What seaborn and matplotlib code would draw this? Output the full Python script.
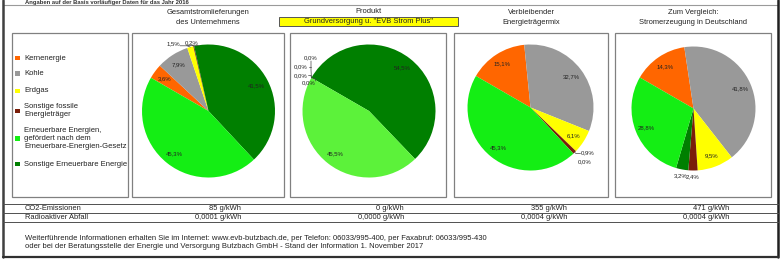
import matplotlib
matplotlib.use("Agg")
import matplotlib.pyplot as plt
from matplotlib.patches import Rectangle
import numpy as np
import seaborn as sns

# ---------------- data ----------------
categories = ["Kernenergie", "Kohle", "Erdgas", "Sonstige fossile Energieträger",
              "Erneuerbare Energien, gefördert nach dem Erneuerbare-Energien-Gesetz",
              "Sonstige Erneuerbare Energie"]
legend_lines = [["Kernenergie"], ["Kohle"], ["Erdgas"],
                ["Sonstige fossile", "Energieträger"],
                ["Erneuerbare Energien,", "gefördert nach dem", "Erneuerbare-Energien-Gesetz"],
                ["Sonstige Erneuerbare Energie"]]
# values in legend order: Kern, Kohle, Erdgas, fossil, EEG, Sonstige EE
gesamt = [3.6, 7.9, 1.5, 0.2, 45.3, 41.5]
produkt = [0.0, 0.0, 0.0, 0.0, 45.5, 54.5]
verbleibend = [15.1, 32.7, 6.1, 0.9, 45.3, 0.0]
deutschland = [14.3, 41.8, 9.5, 2.4, 28.8, 3.2]
pie_titles = [["Gesamtstromlieferungen", "des Unternehmens"],
              ["Produkt", 'Grundversorgung u. "EVB Strom Plus"'],
              ["Verbleibender", "Energieträgermix"],
              ["Zum Vergleich:", "Stromerzeugung in Deutschland"]]
co2 = ["85 g/kWh", "0 g/kWh", "355 g/kWh", "471 g/kWh"]
radio = ["0,0001 g/kWh", "0,0000 g/kWh", "0,0004 g/kWh", "0,0004 g/kWh"]
row_labels = ["CO2-Emissionen", "Radioaktiver Abfall"]
note = "Angaben auf der Basis vorläufiger Daten für das Jahr 2016"
footer = ["Weiterführende Informationen erhalten Sie im Internet: www.evb-butzbach.de, per Telefon: 06033/995-400, per Faxabruf: 06033/995-430",
          "oder bei der Beratungsstelle der Energie und Versorgung Butzbach GmbH - Stand der Information 1. November 2017"]

# ---------------- style ----------------
sns.set_theme(style="white")
plt.rcParams['font.family'] = ['Liberation Sans', 'DejaVu Sans']
colors = sns.color_palette(["#FF6600", "#999999", "#FFFF00", "#7A1E0A", "#14EE14", "#007F00"])
colors_prod = sns.color_palette(["#FF6600", "#999999", "#FFFF00", "#7A1E0A", "#5CF23A", "#007F00"])
# drawing order (clockwise): Kern, Kohle, Erdgas, fossil, Sonstige EE, EEG
order = [0, 1, 2, 3, 5, 4]

W, H = 780, 264
fig = plt.figure(figsize=(W / 100, H / 100), dpi=100)
fig.patch.set_facecolor("white")
bg = fig.add_axes([0, 0, 1, 1])
bg.set_xlim(0, W)
bg.set_ylim(H, 0)
bg.axis("off")
bg.set_zorder(10)
bg.patch.set_visible(False)

FS = 5.4
TFS = 5.4
edge = "#808080"
tc = "#222222"

# outer frame
bg.plot([3, 778], [5, 5], color="#9a9a9a", lw=0.8)
bg.plot([3, 3], [0, 257], color="#404040", lw=1.8)
bg.plot([778, 778], [0, 257], color="#202020", lw=1.8)
bg.plot([3, 778], [256.5, 256.5], color="#303030", lw=1.6)
for yy in [204, 213, 222]:
    bg.plot([3, 778], [yy, yy], color="#505050", lw=0.7)

bg.text(25, 2.3, note, fontsize=4.2, fontweight="bold", va="center", ha="left", color="#333333")

# panels
panels = [(12, 128), (132, 284), (290, 446), (454, 608), (615, 771)]
for x0, x1 in panels:
    bg.add_patch(Rectangle((x0, 33), x1 - x0, 164, fill=False, ec=edge, lw=0.9))

# legend
leg_y = [58, 73.5, 91, 107, 131, 164]
for i, lines in enumerate(legend_lines):
    y0 = leg_y[i]
    ymid = y0 + (len(lines) - 1) * 7.8 / 2
    bg.add_patch(Rectangle((15, ymid - 2.4), 4.8, 4.8, color=colors[i], lw=0))
    for j, ln in enumerate(lines):
        bg.text(24, y0 + j * 7.8, ln, fontsize=5.5, va="center", ha="left", color=tc)

# titles
tcx = [208, 368, 531, 693]
bg.text(tcx[0], 12, pie_titles[0][0], fontsize=TFS, ha="center", va="center", color=tc)
bg.text(tcx[0], 22, pie_titles[0][1], fontsize=TFS, ha="center", va="center", color=tc)
bg.text(tcx[1], 11.5, pie_titles[1][0], fontsize=TFS, ha="center", va="center", color=tc)
bg.add_patch(Rectangle((279, 16.5), 179, 9.5, fc="#FFFF00", ec="#555555", lw=0.7, zorder=1))
bg.text(tcx[1], 21.3, pie_titles[1][1], fontsize=TFS, ha="center", va="center", color=tc, zorder=3)
for k in (2, 3):
    bg.text(tcx[k], 12, pie_titles[k][0], fontsize=TFS, ha="center", va="center", color=tc)
    bg.text(tcx[k], 22, pie_titles[k][1], fontsize=TFS, ha="center", va="center", color=tc)

# pies
pies = [(gesamt, 208.5, 111, 66.5, colors),
        (produkt, 369, 111, 66.5, colors_prod),
        (verbleibend, 530.5, 107.5, 63, colors),
        (deutschland, 693.5, 108.5, 62, colors)]


def fmt(v):
    return f"{v:.1f}%".replace(".", ",")


LFS = 4.3
wedge_info = []
for vals, cx, cy, r, cols in pies:
    ax = fig.add_axes([(cx - r) / W, 1 - (cy + r) / H, 2 * r / W, 2 * r / H])
    v = [vals[i] for i in order]
    c = [cols[i] for i in order]
    wedges, _ = ax.pie(v, colors=c, startangle=150, counterclock=False,
                       wedgeprops=dict(linewidth=0), radius=1)
    ax.set_xlim(-1, 1)
    ax.set_ylim(-1, 1)
    ax.axis("off")
    info = {}
    for idx, w in zip(order, wedges):
        info[idx] = (w.theta1, w.theta2)
    wedge_info.append((info, cx, cy, r))


def pos(pi, idx, f):
    info, cx, cy, r = wedge_info[pi]
    t1, t2 = info[idx]
    a = np.deg2rad((t1 + t2) / 2)
    return cx + f * r * np.cos(a), cy - f * r * np.sin(a)


def lab(pi, idx, vals, f=0.82, **kw):
    x, y = pos(pi, idx, f)
    bg.text(x, y, fmt(vals[idx]), fontsize=LFS, ha="center", va="center", color=tc, **kw)


lc = "#444444"
# pie 1
for idx in (0, 1, 4, 5):
    lab(0, idx, gesamt)
ex, ey = pos(0, 2, 1.0)
bg.text(180, 44, fmt(gesamt[2]), fontsize=LFS, ha="right", va="center", color=tc)
bg.plot([180, 187, ex], [45.8, 45.8, ey], color=lc, lw=0.5)
ex, ey = pos(0, 3, 1.0)
bg.text(192, 42.5, fmt(gesamt[3]), fontsize=LFS, ha="center", va="center", color=tc)
bg.plot([186, 198], [44.8, 44.8], color=lc, lw=0.5)
bg.plot([192, ex], [44.8, ey], color=lc, lw=0.5)

# pie 2
for idx in (4, 5):
    lab(1, idx, produkt)
ex, ey = pos(1, 0, 1.0)
zero_pos = [(311, 58, "center"), (308, 67, "right"), (308, 75.5, "right"), (315, 83, "right")]
for (zx, zy, ha), idx in zip(zero_pos, [0, 1, 2, 3]):
    bg.text(zx, zy, fmt(produkt[idx]), fontsize=LFS, ha=ha, va="center", color=tc)
bg.plot([311, 311, ex], [61, 70, ey], color=lc, lw=0.5)
bg.plot([308.5, 311], [67, 67], color=lc, lw=0.5)
bg.plot([308.5, 311, ex], [75.5, 75.5, ey], color=lc, lw=0.5)
bg.plot([315.5, 315.5, ex], [81, 79, ey], color=lc, lw=0.5)

# pie 3
for idx in (0, 1, 2, 4):
    lab(2, idx, verbleibend)
ex, ey = pos(2, 3, 1.0)
bg.text(581, 153, fmt(verbleibend[3]), fontsize=LFS, ha="left", va="center", color=tc)
bg.plot([ex, 576, 580.5], [ey, 153.5, 153.5], color=lc, lw=0.5)
bg.text(578, 162, fmt(verbleibend[5]), fontsize=LFS, ha="left", va="center", color=tc)

# pie 4
for idx in (0, 1, 2, 4):
    lab(3, idx, deutschland)
lab(3, 3, deutschland, f=1.1)
lab(3, 5, deutschland, f=1.1)

# bottom rows
for j, lbl in enumerate(row_labels):
    bg.text(25, 209 + j * 8.7, lbl, fontsize=FS, ha="left", va="center", color=tc)
vx = [241, 404, 567, 729]
for k in range(4):
    bg.text(vx[k], 209, co2[k], fontsize=FS, ha="right", va="center", color=tc)
    bg.text(vx[k], 217.7, radio[k], fontsize=FS, ha="right", va="center", color=tc)

bg.text(25, 238.3, footer[0], fontsize=5.5, ha="left", va="center", color=tc)
bg.text(25, 246.3, footer[1], fontsize=5.5, ha="left", va="center", color=tc)

fig.savefig("out.png", dpi=100, facecolor="white")
